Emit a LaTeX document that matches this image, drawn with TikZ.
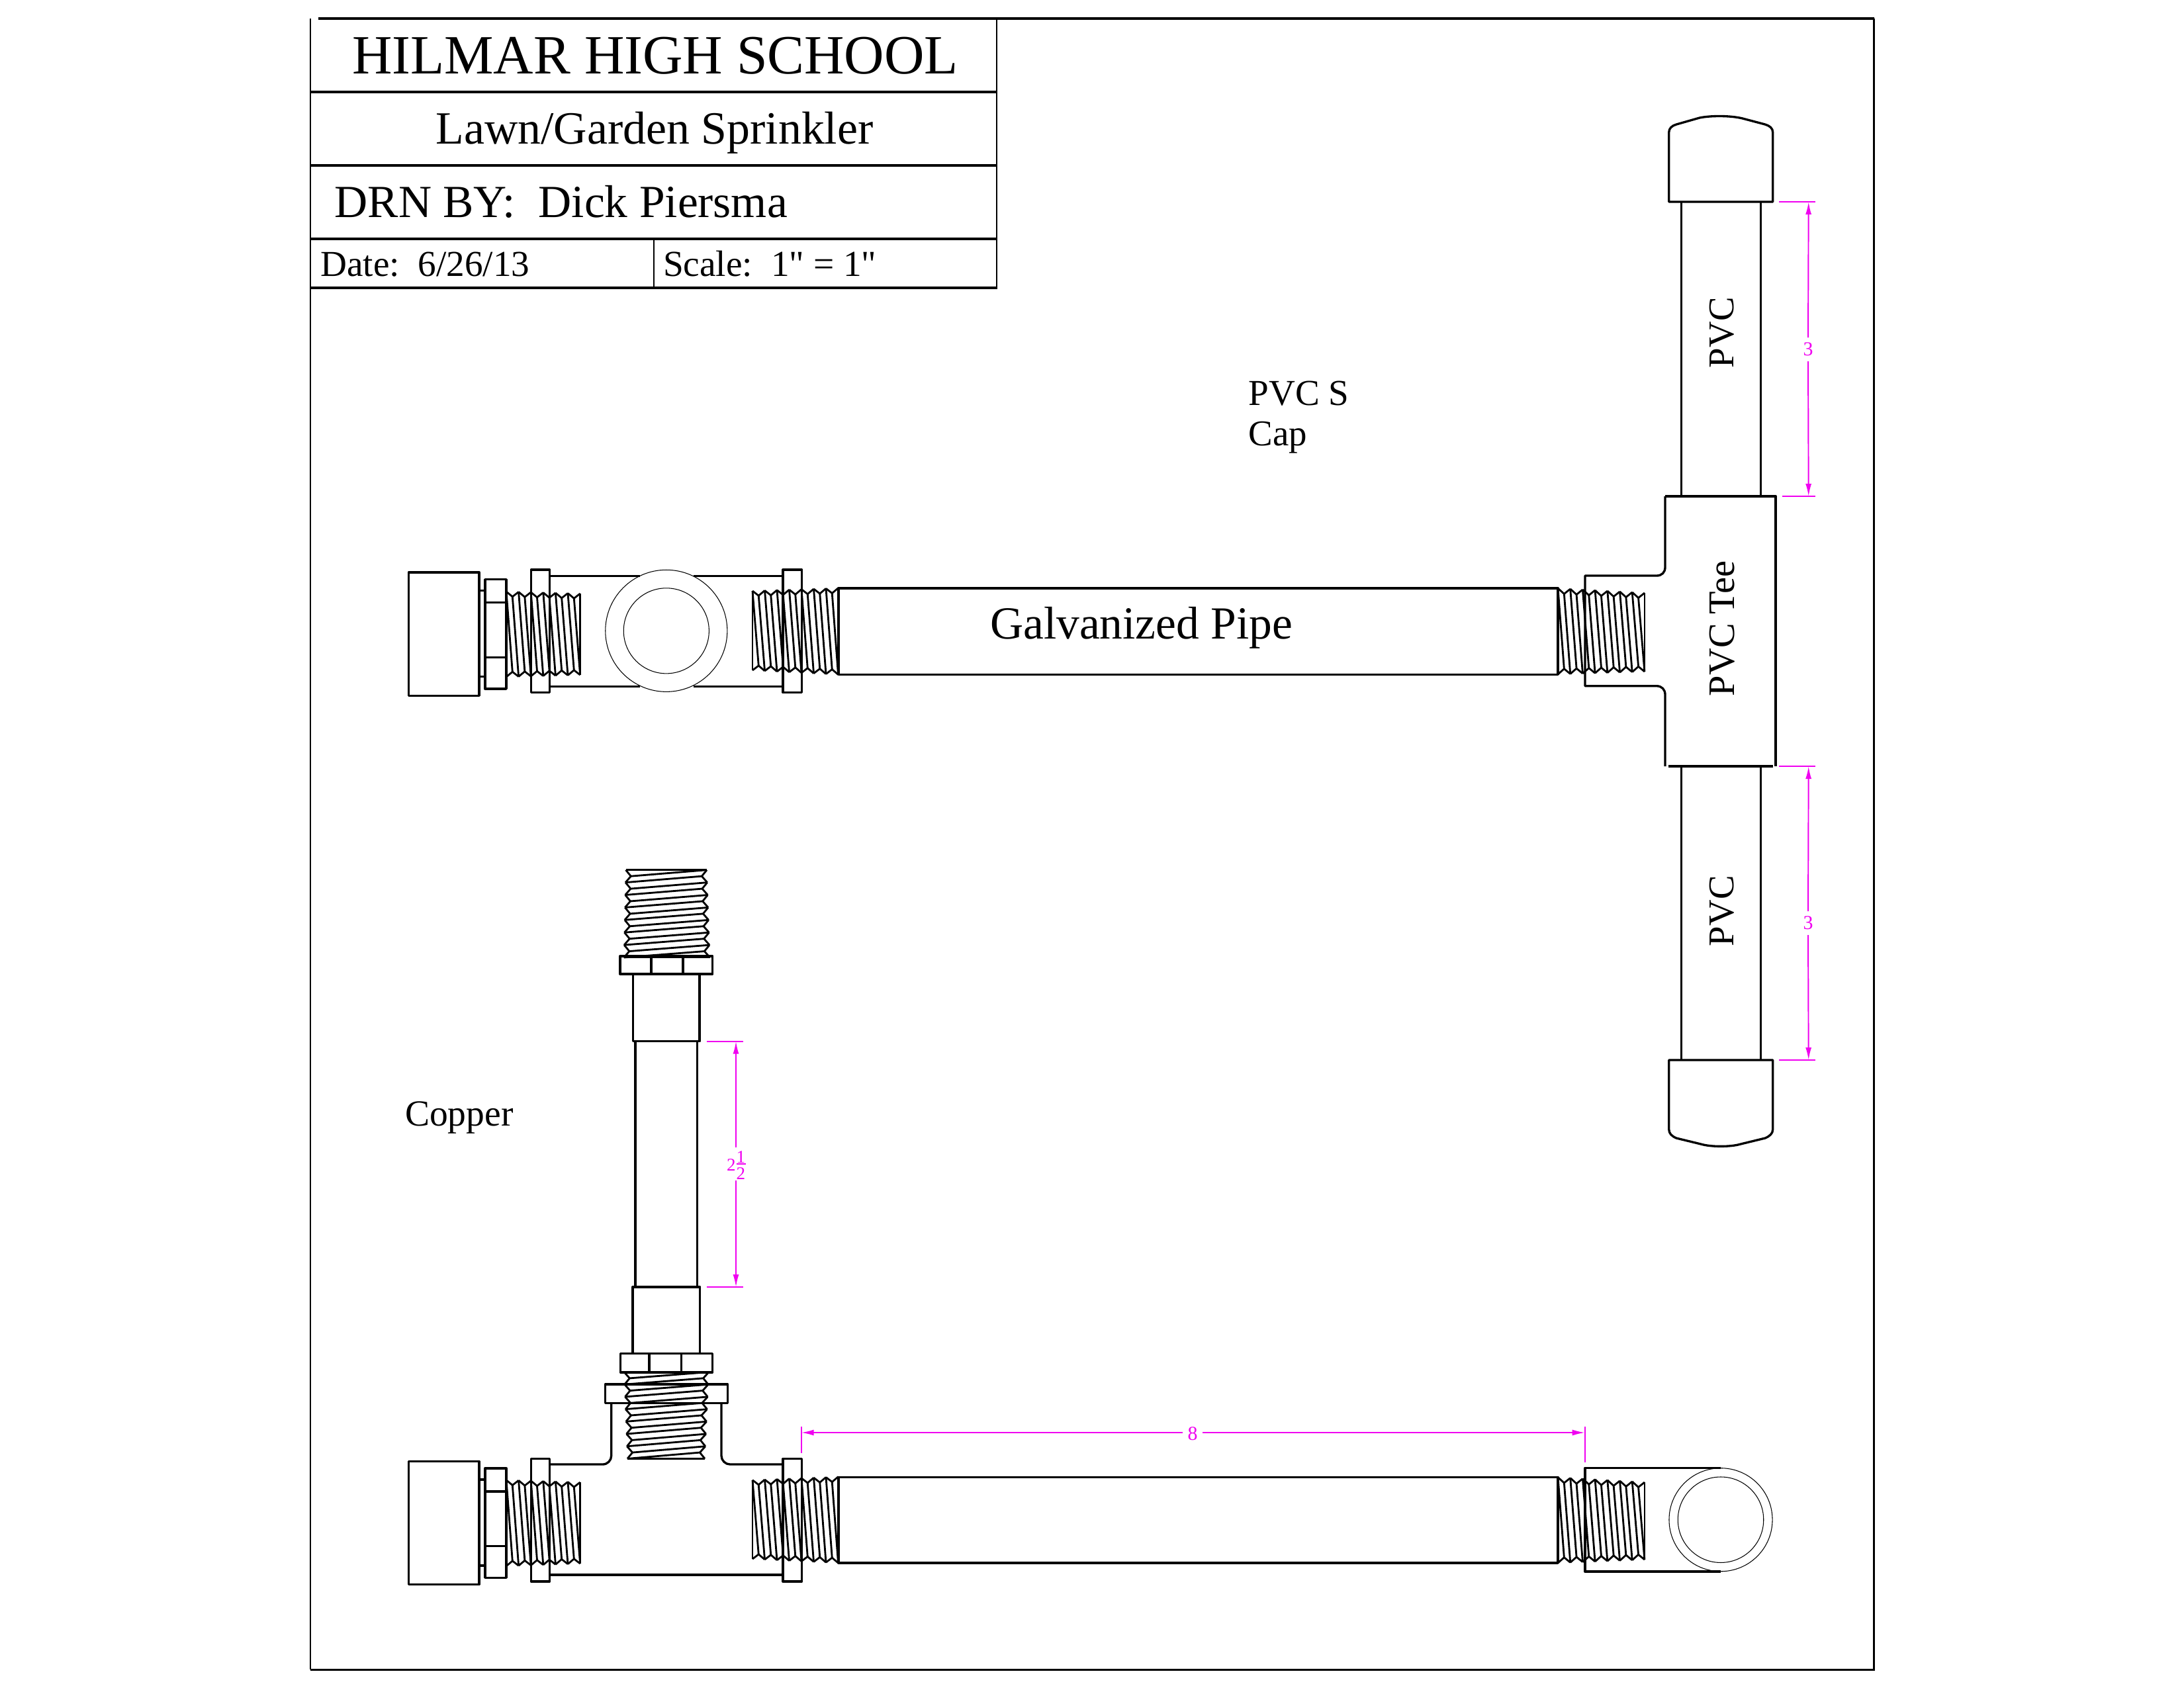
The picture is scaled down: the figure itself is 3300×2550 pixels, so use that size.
\documentclass[tikz,border=0pt]{standalone}
\usepackage{fontspec}
\setmainfont{Liberation Serif}
\newfontfamily\plainserif{Liberation Serif}
\usetikzlibrary{arrows.meta}
\definecolor{dimcol}{RGB}{240,0,240}
\tikzset{
  part/.style={draw=black,line width=0.95pt,line join=round},
  thrline/.style={draw=black,line width=0.8pt,line join=round},
  hair/.style={draw=black,line width=0.3pt},
  frameT/.style={draw=black,line width=1.2pt},
  frameN/.style={draw=black,line width=0.6pt},
  frameM/.style={draw=black,line width=0.85pt},
  dimext/.style={draw=dimcol,line width=0.55pt},
  dimarr/.style={draw=dimcol,line width=0.55pt,-{Latex[length=0.19cm,width=0.09cm]}},
  txt/.style={inner sep=0pt,outer sep=0pt,anchor=base west,text=black},
  dimtxt/.style={inner sep=0pt,outer sep=0pt,text=dimcol,font=\fontsize{8.5}{10}\selectfont},
  fractxt/.style={inner sep=0pt,outer sep=0pt,text=dimcol,anchor=base,font=\fontsize{7.7}{9}\selectfont},
}
% thread: start, pitch, count, top0, top1, bottom0, bottom1, root depth
\newcommand\thr[8]{%
  \draw[thrline] (#1,#4) -- (#1,#6);
  \draw[thrline] ({#1+#3*#2},#5) -- ({#1+#3*#2},#7);
  \foreach \i in {1,...,#3}{%
    \pgfmathsetmacro\uA{#1+(\i-1)*#2}
    \pgfmathsetmacro\uM{\uA+0.5*#2}
    \pgfmathsetmacro\uB{\uA+#2}
    \pgfmathsetmacro\tA{#4+(\i-1)/#3*(#5-#4)}
    \pgfmathsetmacro\tB{#4+\i/#3*(#5-#4)}
    \pgfmathsetmacro\tM{0.5*(\tA+\tB)+#8}
    \pgfmathsetmacro\bA{#6+(\i-1)/#3*(#7-#6)}
    \pgfmathsetmacro\bB{#6+\i/#3*(#7-#6)}
    \pgfmathsetmacro\bM{0.5*(\bA+\bB)-#8}
    \draw[thrline] (\uA,\tA) -- (\uM,\tM) -- (\uB,\tB);
    \draw[thrline] (\uA,\bA) -- (\uM,\bM) -- (\uB,\bB);
    \draw[thrline] (\uA,\tA) -- (\uM,\bM);
    \draw[thrline] (\uM,\tM) -- (\uB,\bB);
  }%
}
% the same thread with its axis running down the page
\newcommand\vthr[8]{%
  \begin{scope}[cm={0,-1,-1,0,(0,0)}]
    \thr{#1}{#2}{#3}{#4}{#5}{#6}{#7}{#8}
  \end{scope}%
}
% end fitting: cap, stubs, hex nut, flanges
\newcommand\capnut[1]{%
  \begin{scope}[yshift={-(#1)*0.01cm}]
    \draw[part] (617.4,-88.3) rectangle (724,98);
    \draw[part] (724,-60.6) -- (733,-60.6);
    \draw[part] (724,69.4) -- (733,69.4);
    \draw[part] (733,-77.6) rectangle (765,87.7);
    \draw[part] (733,-42.6) -- (765,-42.6);
    \draw[part] (733,40) -- (765,40);
    \draw[part] (802.5,-92.3) rectangle (830.5,93.4);
    \draw[part] (1183,-92.3) rectangle (1211.6,93.4);
  \end{scope}%
}
\begin{document}
\begin{tikzpicture}[x=0.01cm,y=-0.01cm]
\useasboundingbox (0,0) rectangle (3300,2550);
\fill[white] (0,0) rectangle (3300,2550);

% ---------- frame
\draw[frameN] (469,28) -- (469,2523);
\draw[frameM] (469,2523) -- (2831.7,2523) -- (2831.7,28);
\draw[frameT] (481,28) -- (2831.7,28);

% ---------- title block
\draw[frameN] (1505.6,28) -- (1505.6,435);
\draw[frameN] (988,361) -- (988,435);
\draw[frameT] (468,139) -- (1507,139);
\draw[frameT] (468,250) -- (1507,250);
\draw[frameT] (468,361) -- (1507,361);
\draw[frameT] (468,435) -- (1507,435);
\node[txt,font=\fontsize{23.8}{26}\selectfont] (school) at (532,111.7) {HILMAR HIGH SCHOOL};
\node[txt,font=\fontsize{19.85}{22}\selectfont] (title) at (658.5,217) {Lawn/Garden Sprinkler};
\node[txt,font=\fontsize{19.75}{22}\selectfont] (drn) at (505.6,328) {DRN BY:\ \ Dick Piersma};
\node[txt,font=\fontsize{15.7}{18}\selectfont] (date) at (484.5,417) {Date:\ \ 6/26/13};
\node[txt,font=\fontsize{15.75}{18}\plainserif\selectfont] (scale) at (1002,417) {Scale:\ \ 1" = 1"};

% ---------- free labels
\node[txt,font=\fontsize{15.7}{18}\selectfont] (pvcs) at (1886.5,612) {PVC S};
\node[txt,font=\fontsize{15.6}{18}\selectfont] (cap) at (1886.5,673) {Cap};
\node[txt,font=\fontsize{15.8}{18}\selectfont] (copper) at (612,1701.7) {Copper};
\node[txt,font=\fontsize{19.75}{22}\selectfont] (galv) at (1496,965) {Galvanized Pipe};
\node[txt,rotate=90,font=\fontsize{15.6}{18}\selectfont] (pvc1) at (2619,556) {PVC};
\node[txt,rotate=90,font=\fontsize{15.6}{18}\selectfont] (pvc2) at (2619,1430) {PVC};
\node[txt,rotate=90,font=\fontsize{16.05}{18}\selectfont] (pvct) at (2620,1052) {PVC Tee};

% ---------- upper assembly
\capnut{953.3}
\draw[part] (830.5,870.7) -- (967,870.7);
\draw[part] (1047.6,870.7) -- (1183,870.7);
\draw[part] (830.5,1037.3) -- (967,1037.3);
\draw[part] (1047.6,1037.3) -- (1183,1037.3);
\draw[hair] (1006.8,953.3) circle[radius=0.92cm];
\draw[hair] (1006.8,953.3) circle[radius=0.645cm];
\thr{765}{18.6}{6}{894}{897}{1023}{1020}{7.5}
\thr{1137}{18.5}{7}{893}{888.7}{1013}{1019.5}{7.5}
\draw[part] (1267,889) rectangle (2354,1019.3);
\thr{2354}{18.7}{7}{889}{896}{1019}{1015}{8}

% PVC tee
\draw[part] (2516,750) -- (2516,857)
  .. controls (2516,865) and (2511,870) .. (2503,870) -- (2395,870) -- (2395,1036.7) -- (2503,1036.7)
  .. controls (2511,1036.7) and (2516,1042) .. (2516,1050) -- (2516,1158);
\draw[part] (2516,750) -- (2683,750) -- (2683,1158);
\draw[part] (2520.7,1158) -- (2679.3,1158);
\draw[part] (2540.5,305) -- (2540.5,750);
\draw[part] (2660.3,305) -- (2660.3,750);
\draw[part] (2540.5,1158) -- (2540.5,1602);
\draw[part] (2660.3,1158) -- (2660.3,1602);
% end caps
\draw[part] (2521.7,305) -- (2521.7,200) .. controls (2521.7,194) and (2526,190) .. (2533,188)
  -- (2568,178) .. controls (2585,174.5) and (2615,174.5) .. (2633,179)
  -- (2667,188) .. controls (2674,190) and (2678.7,194) .. (2678.7,200) -- (2678.7,305) -- cycle;
\draw[part] (2521.7,1602) -- (2521.7,1706.7) .. controls (2521.7,1713) and (2526,1717) .. (2533,1720)
  -- (2570,1729) .. controls (2585,1733.5) and (2615,1733.5) .. (2630,1729)
  -- (2667,1720) .. controls (2674,1717) and (2678.7,1713) .. (2678.7,1706.7) -- (2678.7,1602) -- cycle;

% dims on PVC
\draw[dimext] (2688,305) -- (2742.7,305);
\draw[dimext] (2692.7,750) -- (2742.7,750);
\draw[dimext] (2688,1158) -- (2742.7,1158);
\draw[dimext] (2688,1602) -- (2742.7,1602);
\coordinate (d1a) at (2732.7,305);
\coordinate (d1b) at (2732.7,750);
\coordinate (d2a) at (2732.7,1158);
\coordinate (d2b) at (2732.7,1602);
\node[dimtxt,minimum height=0.36cm] (d1t) at (2732,528) {3};
\node[dimtxt,minimum height=0.36cm] (d2t) at (2732,1395) {3};
\draw[dimarr] (d1t.north) -- (d1a);
\draw[dimarr] (d1t.south) -- (d1b);
\draw[dimarr] (d2t.north) -- (d2a);
\draw[dimarr] (d2t.south) -- (d2b);

% ---------- copper riser
\vthr{1314.7}{18.9}{7}{1068}{1072.7}{945.5}{942.7}{-8}
\draw[part] (937,1445) rectangle (1076.7,1472);
\draw[part] (984,1445) -- (984,1472);
\draw[part] (1032,1445) -- (1032,1472);
\draw[part] (956.7,1472) rectangle (1057,1573.7);
\draw[part] (960,1573.7) -- (960,1945);
\draw[part] (1053.7,1573.7) -- (1053.7,1945);
\draw[part] (956,1945) rectangle (1057.7,2045.7);
\draw[part] (937.5,2045.7) rectangle (1076.6,2074);
\draw[part] (981,2045.7) -- (981,2074);
\draw[part] (1029.7,2045.7) -- (1029.7,2074);
\draw[part] (914.5,2092) rectangle (1099.5,2120.7);
\vthr{2073.5}{18.7}{7}{1071}{1065}{943}{948}{-8}

% riser dim
\draw[dimext] (1067.7,1573.7) -- (1122.7,1573.7);
\draw[dimext] (1067.7,1945) -- (1122.7,1945);
\coordinate (d3a) at (1112,1573.7);
\coordinate (d3b) at (1112,1945);
\coordinate (d3g1) at (1112,1734);
\coordinate (d3g2) at (1112,1784);
\draw[dimarr] (d3g1) -- (d3a);
\draw[dimarr] (d3g2) -- (d3b);
\node[fractxt] (f2) at (1105,1769) {2};
\node[fractxt] (fn) at (1119.5,1757) {1};
\node[fractxt] (fd) at (1119.5,1782) {2};
\draw[dimext] (1112.7,1758.8) -- (1126.7,1758.8);

% ---------- lower assembly
\capnut{2296.6}
\draw[part] (830.5,2213) -- (910.7,2213) .. controls (918,2213) and (923.7,2207) .. (923.7,2200) -- (923.7,2120.7);
\draw[part] (1090,2120.7) -- (1090,2200) .. controls (1090,2207) and (1096,2213) .. (1103,2213) -- (1183,2213);
\draw[part] (830.5,2380) -- (1183,2380);
\thr{765}{18.6}{6}{2236.7}{2240}{2366.7}{2363}{7.5}
\thr{1137}{18.5}{7}{2236.7}{2231.7}{2356}{2362}{7.5}
\draw[part] (1267,2232.5) rectangle (2354,2362);
\thr{2354}{18.7}{7}{2232.5}{2240}{2362}{2357}{8}
\draw[part] (2600,2218.5) -- (2395,2218.5) -- (2395,2375) -- (2600,2375);
\draw[hair] (2600,2296.7) circle[radius=0.78cm];
\draw[hair] (2600,2296.7) circle[radius=0.647cm];

% horizontal dim
\draw[dimext] (1210.7,2156) -- (1210.7,2195.7);
\draw[dimext] (2394.7,2156) -- (2394.7,2210);
\coordinate (d4a) at (1210.7,2165);
\coordinate (d4b) at (2394.7,2165);
\node[dimtxt,minimum width=0.3cm] (d4t) at (1802,2167) {8};
\draw[dimarr] (d4t.west |- d4a) -- (d4a);
\draw[dimarr] (d4t.east |- d4b) -- (d4b);
\end{tikzpicture}
\end{document}
